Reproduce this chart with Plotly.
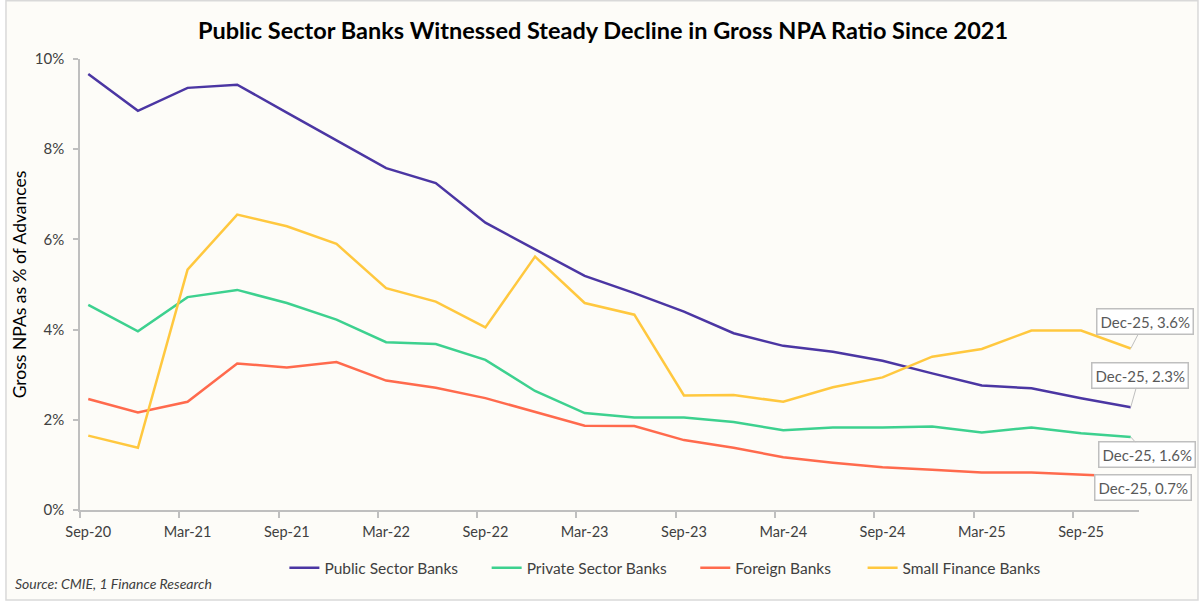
import plotly.graph_objects as go

quarters = ["Sep-20", "Dec-20", "Mar-21", "Jun-21", "Sep-21", "Dec-21", "Mar-22", "Jun-22",
            "Sep-22", "Dec-22", "Mar-23", "Jun-23", "Sep-23", "Dec-23", "Mar-24", "Jun-24",
            "Sep-24", "Dec-24", "Mar-25", "Jun-25", "Sep-25", "Dec-25"]

# gross NPA ratio, % of advances
public_sector = [9.67, 8.85, 9.36, 9.43, 8.81, 8.19, 7.58, 7.25, 6.37, 5.78, 5.19, 4.81,
                 4.40, 3.92, 3.64, 3.51, 3.31, 3.03, 2.76, 2.70, 2.48, 2.28]
private_sector = [4.55, 3.96, 4.72, 4.88, 4.59, 4.22, 3.72, 3.68, 3.33, 2.64, 2.15, 2.05,
                  2.05, 1.95, 1.77, 1.83, 1.83, 1.85, 1.72, 1.83, 1.70, 1.62]
foreign = [2.46, 2.16, 2.40, 3.25, 3.16, 3.28, 2.87, 2.71, 2.48, 2.18, 1.87, 1.86,
           1.55, 1.38, 1.17, 1.05, 0.95, 0.89, 0.83, 0.83, 0.78, 0.74]
small_finance = [1.65, 1.38, 5.33, 6.55, 6.29, 5.90, 4.92, 4.62, 4.05, 5.62, 4.59, 4.33,
                 2.54, 2.55, 2.40, 2.72, 2.94, 3.40, 3.57, 3.98, 3.98, 3.58]

series = [
    ("Public Sector Banks", public_sector, "#4B36A3"),
    ("Private Sector Banks", private_sector, "#3DD18F"),
    ("Foreign Banks", foreign, "#FF6A4D"),
    ("Small Finance Banks", small_finance, "#FFC83F"),
]

x = list(range(len(quarters)))
font = "Lato, Arial, sans-serif"
axis_grey = "#BFBFBF"
text_grey = "#404040"

# one legend per series so the spacing can follow the original
legend_x = [0.193, 0.384, 0.581, 0.739]
legend_ids = ["legend", "legend2", "legend3", "legend4"]

fig = go.Figure()
for (name, vals, color), lid in zip(series, legend_ids):
    fig.add_trace(go.Scatter(x=x, y=vals, name=name, mode="lines", legend=lid,
                             line=dict(color=color, width=2.5), cliponaxis=False))

# callout labels for the last quarter: (series index, x offset, y offset)
callouts = [(3, 14, -27), (0, 9, -32), (1, 16, 18)]
for idx, ax, ay in callouts:
    vals = series[idx][1]
    fig.add_annotation(x=x[-1], y=vals[-1], text=f"{quarters[-1]}, {vals[-1]:.1f}%",
                       showarrow=True, arrowhead=0, arrowwidth=1, arrowcolor=axis_grey,
                       ax=ax, ay=ay, bgcolor="white", bordercolor=axis_grey,
                       borderwidth=1.5, borderpad=3,
                       font=dict(family=font, size=15, color="#595959"))
fig.add_annotation(x=x[-1], y=foreign[-1], text=f"{quarters[-1]}, {foreign[-1]:.1f}%",
                   showarrow=False, xshift=12, yshift=-11, bgcolor="white",
                   bordercolor=axis_grey, borderwidth=1.5, borderpad=3,
                   font=dict(family=font, size=15, color="#595959"))

fig.add_annotation(text="Source: CMIE, 1 Finance Research", xref="paper", yref="paper",
                   x=-0.063, y=-0.162, xanchor="left", yanchor="middle", showarrow=False,
                   font=dict(family=font, size=14, color=text_grey, style="italic"))

# light frame around the chart
fig.add_shape(type="rect", xref="paper", yref="paper", x0=-0.0699, x1=1.0557,
              y0=-0.1997, y1=1.1294, line=dict(color="#D9D9D9", width=1.5),
              fillcolor="#FDFCF8", layer="below")

legend_style = dict(orientation="h", y=-0.129, xanchor="left", yanchor="middle",
                    font=dict(family=font, size=15.5, color=text_grey), itemwidth=30,
                    bgcolor="rgba(0,0,0,0)")

fig.update_layout(
    width=1200, height=603,
    margin=dict(l=80, r=61, t=59, b=93),
    paper_bgcolor="white", plot_bgcolor="rgba(0,0,0,0)",
    font=dict(family=font, color=text_grey),
    title=dict(text="<b>Public Sector Banks Witnessed Steady Decline in Gross NPA Ratio Since 2021</b>",
               x=0.5025, y=0.949, xanchor="center", yanchor="middle",
               font=dict(family=font, size=23.5, color="black")),
    showlegend=True,
)
for lid, lx in zip(legend_ids, legend_x):
    fig.update_layout({lid: dict(legend_style, x=lx)})

fig.update_xaxes(
    range=[-1 / 6, len(quarters) - 1 + 1 / 6],
    tickvals=x[::2], ticktext=quarters[::2], ticks="",
    minor=dict(tickvals=[i - 1 / 6 for i in x[::2]], ticks="outside", ticklen=6,
               tickcolor=axis_grey, tickwidth=1.5),
    showline=True, linecolor=axis_grey, linewidth=1.5,
    showgrid=False, zeroline=False, ticklabelstandoff=8,
    tickfont=dict(family=font, size=14.5, color=text_grey),
)
fig.update_yaxes(
    range=[0, 10], dtick=2, ticksuffix="%",
    ticks="outside", ticklen=5, tickcolor=axis_grey, tickwidth=1.5,
    showline=True, linecolor=axis_grey, linewidth=1.5,
    showgrid=False, zeroline=False, ticklabelstandoff=6,
    tickfont=dict(family=font, size=15, color=text_grey),
    title=dict(text="Gross NPAs as % of Advances", standoff=4,
               font=dict(family=font, size=17.5, color="black")),
)

fig.write_html("out.html", config={"displayModeBar": False},
               post_script="document.body.style.margin='0';")
